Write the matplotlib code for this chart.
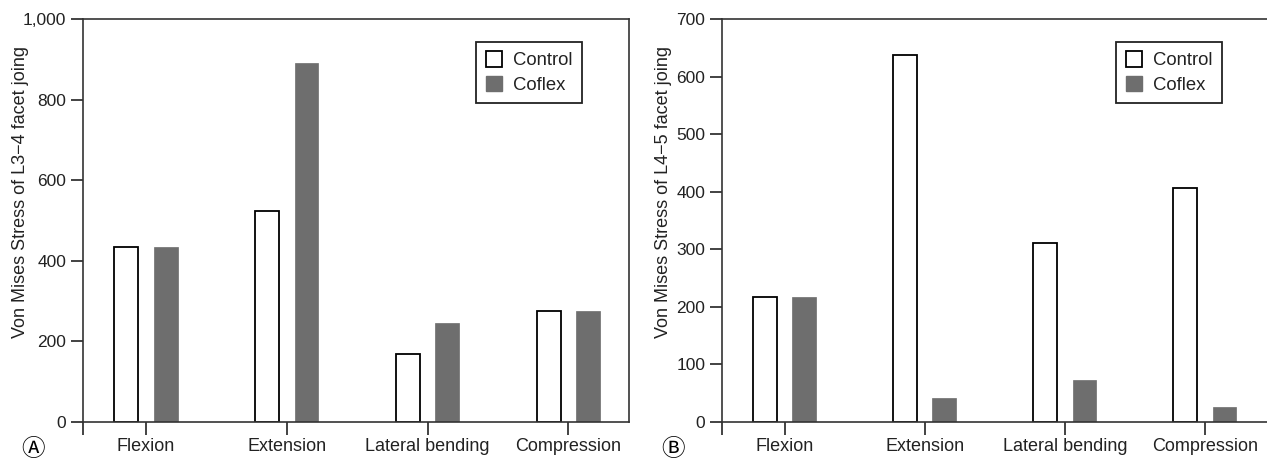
import numpy as np
import matplotlib
matplotlib.use('Agg')
import matplotlib.pyplot as plt
from matplotlib.patches import Patch

plt.rcParams['font.family'] = ['Liberation Sans', 'DejaVu Sans']

categories = ['Flexion', 'Extension', 'Lateral bending', 'Compression']
series = ['Control', 'Coflex']

l34_control = [434, 522, 168, 276]
l34_coflex = [434, 891, 244, 276]
l45_control = [217, 637, 310, 406]
l45_coflex = [217, 41, 72, 26]

panel_letters = ['\u24B6', '\u24B7']
ylabels = ['Von Mises Stress of L3\u22124 facet joing',
           'Von Mises Stress of L4\u22125 facet joing']

gray = '#6e6e6e'
ink = '#222222'

fig = plt.figure(figsize=(12.67, 4.61), dpi=100)
ax1 = fig.add_axes([83 / 1267, 1 - 421.7 / 461, (629 - 83) / 1267, (421.7 - 19) / 461])
ax2 = fig.add_axes([722 / 1267, 1 - 421.7 / 461, (1268 - 722) / 1267, (421.7 - 19) / 461])

x = np.arange(len(categories))
w = 0.17
off = 0.14

panels = [
    (ax1, l34_control, l34_coflex, 1000, [0, 200, 400, 600, 800, 1000],
     ['0', '200', '400', '600', '800', '1,000'], 3.43, True, 21, 582),
    (ax2, l45_control, l45_coflex, 700, [0, 100, 200, 300, 400, 500, 600, 700],
     [str(v) for v in range(0, 701, 100)], 3.45, False, 664, 1222),
]

for i, (ax, ctrl, cofl, ymax, yt, ytl, xr, show_right, ylx, legx) in enumerate(panels):
    ax.bar(x - off, ctrl, w, color='white', edgecolor='black', linewidth=1.3)
    ax.bar(x + off, cofl, w, color=gray, edgecolor=gray, linewidth=0.5)
    xl = -0.447
    ax.set_xlim(xl, xr)
    ax.set_ylim(0, ymax)
    ax.set_yticks(yt)
    ax.set_yticklabels(ytl, fontsize=12.5, color=ink)
    ax.set_xticks(x)
    ax.set_xticklabels(categories, fontsize=13, color=ink)
    ax.set_xticks([xl], minor=True)
    ax.tick_params(axis='both', which='both', direction='out', length=9,
                   width=1.2, color=ink, pad=3)
    for s in ax.spines.values():
        s.set_linewidth(1.2)
        s.set_color('#333333')
    ax.spines['right'].set_visible(show_right)
    ax.set_ylabel(ylabels[i], fontsize=13, color=ink, va='center', ha='center')
    ax.yaxis.set_label_coords(ylx / 1267, 1 - 192 / 461, transform=fig.transFigure)

    handles = [Patch(facecolor='white', edgecolor='black', linewidth=1.3),
               Patch(facecolor=gray, edgecolor=gray)]
    leg = ax.legend(handles, series, loc='upper right',
                    bbox_to_anchor=(legx / 1267, 1 - 42 / 461),
                    bbox_transform=fig.transFigure,
                    fontsize=13.3, frameon=True, fancybox=False,
                    handlelength=0.9, handleheight=0.9, handletextpad=0.6,
                    borderpad=0.5, labelspacing=0.35, borderaxespad=0)
    leg.get_frame().set_edgecolor(ink)
    leg.get_frame().set_linewidth(1.3)
    leg.get_frame().set_alpha(None)
    for t in leg.get_texts():
        t.set_color(ink)

for lx, letter in zip([33, 673], panel_letters):
    fig.text(lx / 1267, 1 - 449 / 461, letter, fontsize=17,
             family=['Noto Sans CJK KR', 'DejaVu Sans'], ha='center', va='center')

fig.savefig('out.png', dpi=100)
